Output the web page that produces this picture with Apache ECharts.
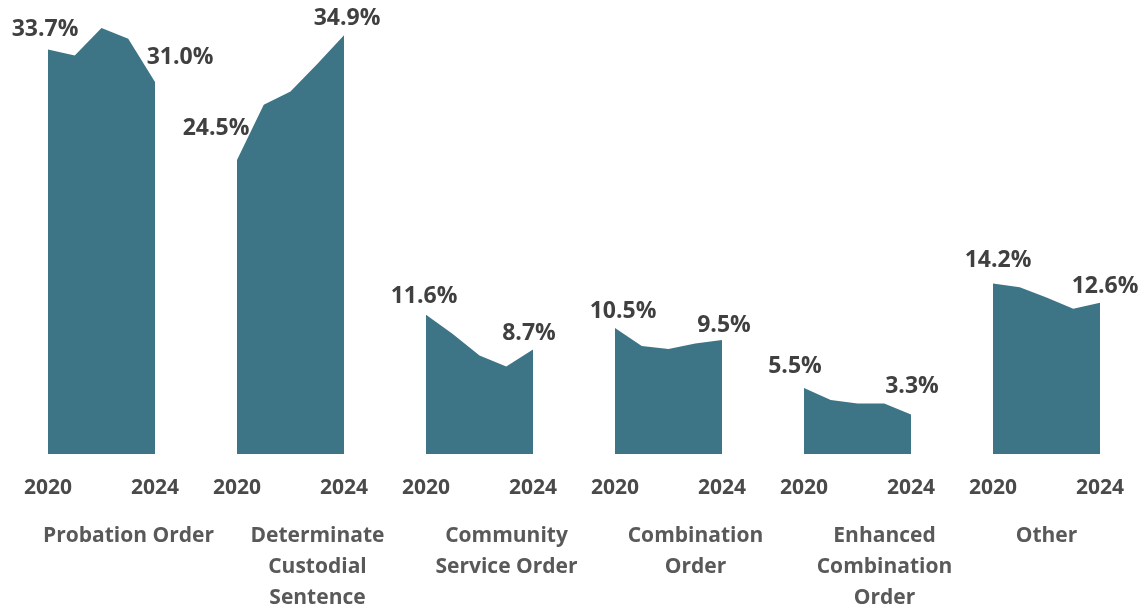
<!DOCTYPE html>
<html>
<head>
<meta charset="utf-8">
<script src="https://cdn.jsdelivr.net/npm/echarts@6/dist/echarts.min.js"></script>
<style>
html,body{margin:0;padding:0;background:#fff;}
#chart{width:1148px;height:610px;}
</style>
</head>
<body>
<div id="chart"></div>
<script>
const years = ['2020', '2021', '2022', '2023', '2024'];
const groupNames = ['Probation Order', 'Determinate\nCustodial\nSentence', 'Community\nService Order', 'Combination\nOrder', 'Enhanced\nCombination\nOrder', 'Other'];
const probation = [33.7, 33.2, 35.5, 34.6, 31.0];
const determinate = [24.5, 29.1, 30.2, 32.5, 34.9];
const community = [11.6, 10.0, 8.2, 7.3, 8.7];
const combination = [10.5, 9.0, 8.75, 9.2, 9.5];
const enhanced = [5.5, 4.5, 4.2, 4.2, 3.3];
const other = [14.2, 13.9, 13.05, 12.1, 12.6];

const seriesValues = [probation, determinate, community, combination, enhanced, other];
// label offsets for first and last point [dx, dy]
const labelOffsets = [
  [[-3, -3], [25, -8]],
  [[-21, -15], [3, 0]],
  [[-2, -1], [-4, 1]],
  [[8, 0], [2, 2]],
  [[-9, -5], [1, -11]],
  [[5, -6], [5, 1]]
];
// horizontal shift of group name (padding-left)
const namePad = [54, 54, 54, 54, 54, 0];
const FONT = '"Open Sans", sans-serif';
const AREA = '#3d7587';

const grids = [], xAxes = [], yAxes = [], series = [];
seriesValues.forEach((vals, i) => {
  grids.push({ left: 48 + 189 * i, width: 107, top: 22, height: 432, outerBoundsMode: 'none', containLabel: false });
  xAxes.push({
    type: 'category', gridIndex: i, data: years, boundaryGap: false,
    axisLine: { show: false }, axisTick: { show: false },
    axisLabel: {
      interval: 0,
      formatter: (v, idx) => (idx === 0 || idx === years.length - 1) ? v : '',
      margin: 24, color: '#4a4a4a', fontFamily: FONT, fontWeight: 'bold', fontSize: 21
    },
    name: groupNames[i], nameLocation: 'middle', nameGap: 67,
    nameTextStyle: {
      color: '#595959', fontFamily: FONT, fontWeight: 'bold', fontSize: 21,
      lineHeight: 31, padding: [0, 0, 0, namePad[i]], align: 'center', verticalAlign: 'top'
    }
  });
  yAxes.push({ type: 'value', gridIndex: i, min: 0, max: 36, show: false, splitLine: { show: false } });
  series.push({
    type: 'line', xAxisIndex: i, yAxisIndex: i,
    symbol: 'circle', symbolSize: 1, showSymbol: true,
    itemStyle: { color: 'rgba(0,0,0,0)' },
    lineStyle: { width: 0 }, areaStyle: { color: AREA, opacity: 1 },
    silent: true,
    data: vals.map((v, j) => {
      const isEnd = j === 0 || j === vals.length - 1;
      const off = j === 0 ? labelOffsets[i][0] : labelOffsets[i][1];
      return {
        value: v,
        label: isEnd ? {
          show: true, position: 'top', distance: 5, offset: off,
          formatter: p => p.value.toFixed(1) + '%',
          color: '#404040', fontFamily: FONT, fontWeight: 'bold', fontSize: 23
        } : { show: false }
      };
    })
  });
});

const chart = echarts.init(document.getElementById('chart'), null, { renderer: 'canvas' });
chart.setOption({
  animation: false,
  backgroundColor: '#ffffff',
  grid: grids, xAxis: xAxes, yAxis: yAxes, series: series
});
</script>
</body>
</html>
